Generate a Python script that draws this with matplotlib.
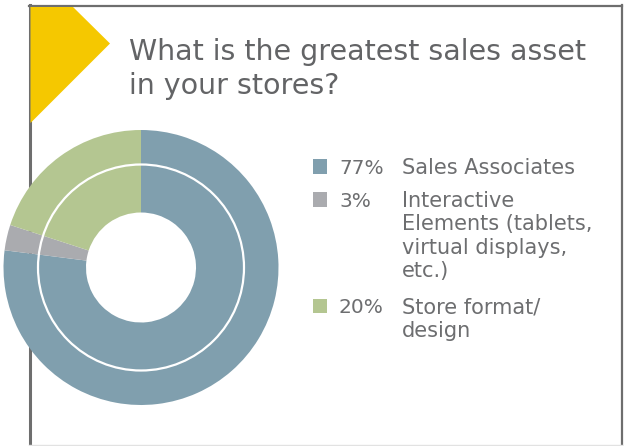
import matplotlib.pyplot as plt
from matplotlib.patches import Polygon, Rectangle, Circle

# survey answers
shares = [77, 3, 20]
pct_labels = ['77%', '3%', '20%']
answers = ['Sales Associates',
           'Interactive\nElements (tablets,\nvirtual displays,\netc.)',
           'Store format/\ndesign']
colors = ['#809FAE', '#AAABAF', '#B4C691']

title_lines = ['What is the greatest sales asset', 'in your stores?']

W, H = 625, 446

fig = plt.figure(figsize=(W / 100, H / 100), dpi=100)
ax = fig.add_axes([0, 0, 1, 1])


def py(y):
    # pixel row (from top) -> data y
    return H - y


# donut, centred partly off the frame
R = 137.5
cx, cy = 141, py(267.5)
ax.pie(shares, colors=colors, startangle=90, counterclock=False,
       radius=R, center=(cx, cy),
       wedgeprops=dict(width=R - 55, linewidth=0, zorder=3))
ax.add_patch(Circle((cx, cy), 103, fill=False, edgecolor='white',
                    linewidth=1.6, zorder=4))

# frame
ax.plot([29.5, 29.5], [py(5), py(446)], color='#6E6E6E', lw=2.2, zorder=1)
ax.plot([29, 621.5], [py(5.7), py(5.7)], color='#6E6E6E', lw=1.6, zorder=1)
ax.plot([621.5, 621.5], [py(5), py(446)], color='#6E6E6E', lw=1.6, zorder=1)
ax.plot([29, 621.5], [py(445.3), py(445.3)], color='#E2E2E2', lw=1, zorder=1)

# yellow corner tag
ax.add_patch(Polygon([(30.5, py(7)), (73, py(7)), (110, py(43.5)),
                      (30.5, py(123))], closed=True, facecolor='#F5C800',
                     edgecolor='none', zorder=2))

# title
for i, line in enumerate(title_lines):
    ax.text(129, py(59.5 + 34 * i), line, fontsize=20.5, color='#636466',
            family='DejaVu Sans', va='baseline', ha='left')

# legend
row_base = [173.5, 206.7, 313.3]
line_step = 23.4
for base, c, pct, ans in zip(row_base, colors, pct_labels, answers):
    ax.add_patch(Rectangle((312.5, py(base)), 14.5, 14.5, facecolor=c,
                           edgecolor='none'))
    ax.text(339, py(base), pct, fontsize=14.5, color='#6D6E70',
            va='baseline', ha='left')
    for j, line in enumerate(ans.split('\n')):
        ax.text(402, py(base + line_step * j), line, fontsize=15,
                color='#6D6E70', va='baseline', ha='left')

ax.set_xlim(0, W)
ax.set_ylim(0, H)
ax.set_aspect('equal')
ax.axis('off')

plt.savefig('out.png', dpi=100)
